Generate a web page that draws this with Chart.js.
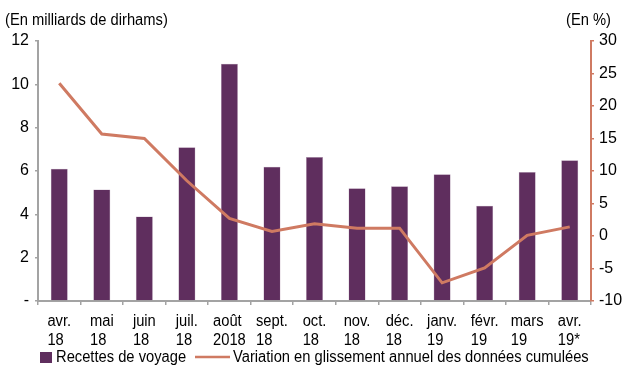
<!DOCTYPE html>
<html>
<head>
<meta charset="utf-8">
<script src="https://cdn.jsdelivr.net/npm/chart.js@4"></script>
<style>
  html, body { margin: 0; padding: 0; background: #fff; }
  #wrap { width: 623px; height: 365px; position: relative; }
</style>
</head>
<body>
<div id="wrap"><canvas id="voyage-chart"></canvas></div>
<script>
// Months (two-line labels)
var labels = [
    ['avr.', '18'], ['mai', '18'], ['juin', '18'], ['juil.', '18'], ['août', '2018'],
    ['sept.', '18'], ['oct.', '18'], ['nov.', '18'], ['déc.', '18'], ['janv.', '19'],
    ['févr.', '19'], ['mars', '19'], ['avr.', '19*']
];
// Recettes de voyage, en milliards de dirhams
var recettes = [6.1, 5.15, 3.9, 7.1, 10.95, 6.2, 6.65, 5.2, 5.3, 5.85, 4.4, 5.95, 6.5];
// Variation en glissement annuel des données cumulées, en %
var variation = [23.5, 15.7, 15.0, 8.5, 2.7, 0.7, 1.9, 1.2, 1.2, -7.2, -4.9, 0.1, 1.4];

var barColor = '#5f2e5e';
var lineColor = '#cf7a62';
var axisGray = '#a3a3a3';
var fontFamily = "'Liberation Sans', Arial, sans-serif";
var narrow = 0.92; // horizontal squeeze for the drawn texts

// draw text squeezed horizontally, left aligned at x
function narrowText(ctx, text, x, y) {
    ctx.save();
    ctx.translate(x, y);
    ctx.scale(narrow, 1);
    ctx.fillText(text, 0, 0);
    ctx.restore();
}

// Month labels, unit captions and the legend
var extras = {
    id: 'extras',
    afterDraw: function (chart) {
        var ctx = chart.ctx;
        var xScale = chart.scales.x;
        ctx.save();
        ctx.fillStyle = '#000';
        ctx.font = '16px ' + fontFamily;
        ctx.textBaseline = 'alphabetic';
        ctx.textAlign = 'left';

        // two-line month labels, lines left aligned inside a centred block
        chart.data.labels.forEach(function (lines, i) {
            var cx = xScale.getPixelForValue(i);
            var w = 0;
            lines.forEach(function (l) { w = Math.max(w, ctx.measureText(l).width * narrow); });
            var x0 = cx - w / 2;
            narrowText(ctx, lines[0], x0, 326);
            narrowText(ctx, lines[1], x0, 345);
        });

        narrowText(ctx, '(En milliards de dirhams)', 5, 25);
        narrowText(ctx, '(En %)', 566, 25);

        var y = 362;
        ctx.fillStyle = barColor;
        ctx.fillRect(40, 352, 12, 11);
        ctx.fillStyle = '#000';
        narrowText(ctx, 'Recettes de voyage', 56, y);
        ctx.strokeStyle = lineColor;
        ctx.lineWidth = 2.5;
        ctx.beginPath();
        ctx.moveTo(195, 357);
        ctx.lineTo(230, 357);
        ctx.stroke();
        narrowText(ctx, 'Variation en glissement annuel des données cumulées', 233, y);
        ctx.restore();
    }
};

var ctx = document.getElementById('voyage-chart').getContext('2d');
var myChart = new Chart(ctx, {
    data: {
        labels: labels,
        datasets: [{
            type: 'line',
            label: 'Variation en glissement annuel des données cumulées',
            data: variation,
            yAxisID: 'y1',
            borderColor: lineColor,
            borderWidth: 3,
            pointRadius: 0,
            tension: 0,
            order: 0
        }, {
            type: 'bar',
            label: 'Recettes de voyage',
            data: recettes,
            yAxisID: 'y',
            backgroundColor: barColor,
            borderColor: '#b9a0b8',
            borderWidth: 0.5,
            barPercentage: 0.4,
            categoryPercentage: 1,
            order: 1
        }]
    },
    options: {
        responsive: true,
        maintainAspectRatio: false,
        animation: false,
        layout: { padding: { top: 41, left: 0, right: 0, bottom: 0 } },
        plugins: {
            legend: { display: false },
            tooltip: { enabled: false }
        },
        scales: {
            x: {
                offset: true,
                grid: {
                    offset: true,
                    drawOnChartArea: false,
                    color: axisGray,
                    tickLength: 4,
                    lineWidth: 1.5
                },
                border: { color: axisGray, width: 2 },
                ticks: { display: false },
                afterFit: function (scale) { scale.height = 64; }
            },
            y: {
                position: 'left',
                min: 0,
                max: 12,
                ticks: {
                    stepSize: 2,
                    color: '#000',
                    font: { family: fontFamily, size: 16 },
                    padding: 6,
                    callback: function (v) { return v === 0 ? '-' : v; }
                },
                grid: { drawOnChartArea: false, color: axisGray, tickLength: 3, lineWidth: 1.5 },
                border: { color: axisGray, width: 2 },
                afterFit: function (scale) { scale.width = 38; }
            },
            y1: {
                position: 'right',
                min: -10,
                max: 30,
                ticks: {
                    stepSize: 5,
                    color: '#000',
                    font: { family: fontFamily, size: 16 },
                    padding: 5
                },
                grid: { drawOnChartArea: false, color: lineColor, tickLength: 3, lineWidth: 1.5 },
                border: { color: lineColor, width: 2 },
                afterFit: function (scale) { scale.width = 32; }
            }
        }
    },
    plugins: [extras]
});
</script>
</body>
</html>
